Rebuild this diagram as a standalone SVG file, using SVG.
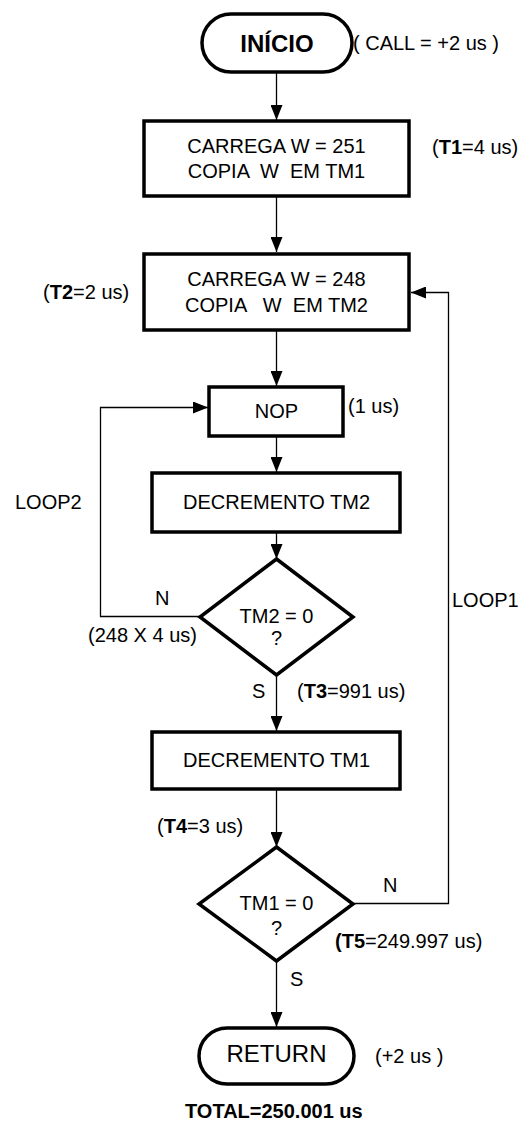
<svg xmlns="http://www.w3.org/2000/svg" width="521" height="1123" viewBox="0 0 521 1123">
<style>
text{font-family:"Liberation Sans",Arial,sans-serif;font-size:20px;fill:#000}
.c{text-anchor:middle}
.b{font-weight:bold}
.big{font-size:24px}
.node{fill:#fff;stroke:#000;stroke-width:3.5}
.conn{fill:none;stroke:#000;stroke-width:1.3}
</style>
<defs>
<marker id="arr" viewBox="0 0 15 12" refX="15" refY="6" markerWidth="15" markerHeight="12" markerUnits="userSpaceOnUse" orient="auto">
<path d="M0,0 L15,6 L0,12 z" fill="#000"/>
</marker>
</defs>
<rect width="521" height="1123" fill="#fff"/>
<g id="connectors">
<path class="conn" d="M276.5,72 V120" marker-end="url(#arr)"/>
<path class="conn" d="M276.5,197 V252" marker-end="url(#arr)"/>
<path class="conn" d="M276.5,331 V386" marker-end="url(#arr)"/>
<path class="conn" d="M276.5,436 V472" marker-end="url(#arr)"/>
<path class="conn" d="M276.5,532 V559" marker-end="url(#arr)"/>
<path class="conn" d="M276.5,675 V731" marker-end="url(#arr)"/>
<path class="conn" d="M276.5,789 V847" marker-end="url(#arr)"/>
<path class="conn" d="M276.5,961 V1027" marker-end="url(#arr)"/>
<path class="conn" d="M200,616.5 H100.5 V407.5 H208" marker-end="url(#arr)"/>
<path class="conn" d="M353,903.5 H448.5 V292.5 H411" marker-end="url(#arr)"/>
</g>
<g id="inicio">
<rect class="node" x="202" y="14" width="150" height="58" rx="29" ry="29"/>
<text class="c b big" x="277" y="52">INÍCIO</text>
<text x="353" y="50" xml:space="preserve">( CALL = +2 us )</text>
</g>
<g id="box1">
<rect class="node" x="144" y="121" width="265" height="75"/>
<text class="c" x="276.5" y="153">CARREGA W = 251</text>
<text class="c" x="276.5" y="178" xml:space="preserve">COPIA  W  EM TM1</text>
<text x="432" y="154">(<tspan class="b">T1</tspan>=4 us)</text>
</g>
<g id="box2">
<rect class="node" x="144" y="254" width="265" height="76"/>
<text class="c" x="276.5" y="286">CARREGA W = 248</text>
<text class="c" x="276.5" y="312" xml:space="preserve">COPIA   W  EM TM2</text>
<text x="43" y="299">(<tspan class="b">T2</tspan>=2 us)</text>
</g>
<g id="nop">
<rect class="node" x="209" y="387" width="134" height="49"/>
<text class="c" x="276.5" y="418">NOP</text>
<text x="348" y="413">(1 us)</text>
</g>
<g id="dec2">
<rect class="node" x="152" y="473" width="248" height="59"/>
<text class="c" x="276.5" y="509">DECREMENTO TM2</text>
</g>
<g id="cond2">
<polygon class="node" points="276.5,559 353,617 276.5,675 200,617"/>
<text class="c" x="276.5" y="623">TM2 = 0</text>
<text class="c" x="276.5" y="645">?</text>
</g>
<g id="dec1">
<rect class="node" x="152" y="732" width="248" height="57"/>
<text class="c" x="276.5" y="767">DECREMENTO TM1</text>
</g>
<g id="cond1">
<polygon class="node" points="276.5,847 353,904 276.5,961 199,904"/>
<text class="c" x="276.5" y="910">TM1 = 0</text>
<text class="c" x="276.5" y="935">?</text>
</g>
<g id="return">
<rect class="node" x="199" y="1028" width="155" height="56" rx="28" ry="28"/>
<text class="c big" x="276.5" y="1062">RETURN</text>
<text x="375" y="1063" xml:space="preserve">(+2 us )</text>
</g>
<g id="labels">
<text x="15" y="509">LOOP2</text>
<text x="155" y="605">N</text>
<text x="88" y="642">(248 X 4 us)</text>
<text x="252" y="698">S</text>
<text x="297" y="698">(<tspan class="b">T3</tspan>=991 us)</text>
<text x="452" y="607">LOOP1</text>
<text x="157" y="833">(<tspan class="b">T4</tspan>=3 us)</text>
<text x="383" y="892">N</text>
<text x="335" y="948"><tspan class="b">(T5</tspan>=249.997 us)</text>
<text x="290" y="986">S</text>
<text class="b" x="185" y="1118">TOTAL=250.001 us</text>
</g>
</svg>
